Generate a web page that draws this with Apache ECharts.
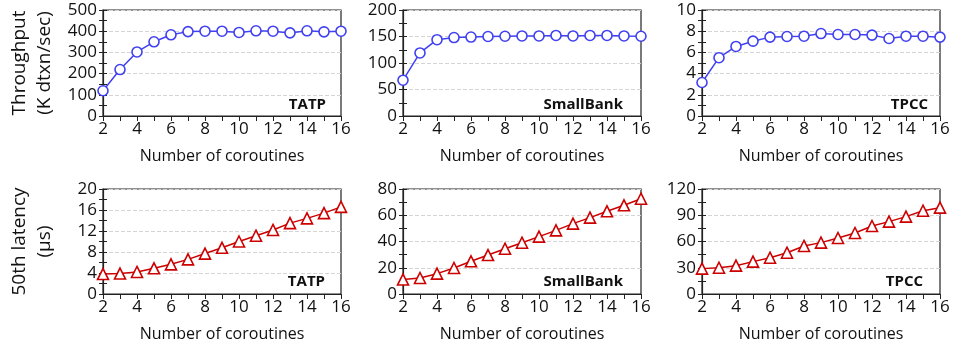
<!DOCTYPE html>
<html>
<head>
<meta charset="utf-8">
<script src="https://cdn.jsdelivr.net/npm/echarts@6/dist/echarts.min.js"></script>
<style>
  html, body { margin: 0; padding: 0; background: #fff; }
  #chart { width: 955px; height: 348px; }
</style>
</head>
<body>
<div id="chart"></div>
<script>
// x values: number of coroutines
const coroutines = [2, 3, 4, 5, 6, 7, 8, 9, 10, 11, 12, 13, 14, 15, 16]
const workloads = ['TATP', 'SmallBank', 'TPCC']

// throughput (K dtxn/sec)
const tputTATP = [119, 219, 302, 350, 383, 398, 400, 400, 394, 402, 400, 392, 402, 397, 400]
const tputSmallBank = [67.5, 119, 144, 148, 149, 150, 150.5, 151, 151, 152, 151, 152, 152, 151, 150.5]
const tputTPCC = [3.16, 5.5, 6.56, 7.06, 7.44, 7.5, 7.53, 7.78, 7.69, 7.69, 7.63, 7.31, 7.53, 7.53, 7.44]

// 50th latency (us)
const latTATP = [3.8, 3.9, 4.2, 4.9, 5.65, 6.6, 7.7, 8.8, 10.0, 11.1, 12.2, 13.5, 14.4, 15.4, 16.6]
const latSmallBank = [11, 12.2, 15.5, 19.8, 24.9, 29.7, 34.5, 39.1, 43.7, 48.5, 53.6, 58.2, 63, 67.6, 72.6]
const latTPCC = [29, 30, 32.4, 37, 41.5, 47.2, 54.9, 58.7, 64, 69.7, 77.7, 82.7, 88.4, 95.2, 98.7]

// y axis ranges: [max, interval]
const tputAxes = [[500, 100], [200, 50], [10, 2]]
const latAxes = [[20, 4], [80, 20], [120, 30]]

const FONT = 'Open Sans'
const colLeft = [103, 403, 702]
const colWidth = 238
const rowTop = [10, 189]
const rowHeight = [106, 105]
const labelRight = [[326, 623, 928], [325, 623, 923]]
const labelY = [105, 282]

const rows = [
  { data: [tputTATP, tputSmallBank, tputTPCC], axes: tputAxes, color: '#4141f2', symbol: 'circle', name: 'Throughput\n(K dtxn/sec)' },
  { data: [latTATP, latSmallBank, latTPCC], axes: latAxes, color: '#cc0000', symbol: 'triangle', name: '50th latency\n(\u00b5s)' }
]

const grid = [], xAxis = [], yAxis = [], series = [], graphic = []

rows.forEach((row, r) => {
  row.data.forEach((vals, c) => {
    const g = grid.length
    grid.push({
      left: colLeft[c], top: rowTop[r], width: colWidth, height: rowHeight[r],
      show: true, borderColor: '#222', borderWidth: 1.2
    })
    xAxis.push({
      type: 'value', gridIndex: g, min: 2, max: 16, interval: 1,
      name: 'Number of coroutines', nameLocation: 'middle', nameGap: 32,
      nameTextStyle: { fontFamily: FONT, fontSize: 16, color: '#111' },
      axisLine: { lineStyle: { color: '#222', width: 1.2 } },
      axisTick: { length: 5, lineStyle: { color: '#222' } },
      axisLabel: {
        fontFamily: FONT, fontSize: 17, color: '#111', margin: 5,
        formatter: (v) => (v % 2 === 0 ? String(v) : '')
      },
      splitLine: { show: false }
    })
    const [max, interval] = row.axes[c]
    const yMain = yAxis.length
    yAxis.push({
      type: 'value', gridIndex: g, min: 0, max: max, interval: interval,
      name: c === 0 ? row.name : '', nameLocation: 'middle', nameGap: 46,
      nameTextStyle: { fontFamily: FONT, fontSize: 19, color: '#111', lineHeight: 25 },
      axisLine: { show: true, lineStyle: { color: '#222', width: 1.2 } },
      axisTick: { show: true, length: 4, lineStyle: { color: '#222' } },
      minorTick: { show: true, splitNumber: 2, length: 4, lineStyle: { color: '#222' } },
      axisLabel: { fontFamily: FONT, fontSize: 17, color: '#111', margin: 6 },
      splitLine: { show: true, lineStyle: { color: '#d4d4d4', type: 'dashed', width: 1 } }
    })
    // inside ticks so the y ticks cross the axis line
    yAxis.push({
      type: 'value', gridIndex: g, min: 0, max: max, interval: interval, position: 'left',
      axisLine: { show: false },
      axisTick: { show: true, inside: true, length: 4, lineStyle: { color: '#222' } },
      minorTick: { show: true, splitNumber: 2, length: 4, lineStyle: { color: '#222' } },
      axisLabel: { show: false },
      splitLine: { show: false }
    })
    series.push({
      type: 'line', xAxisIndex: g, yAxisIndex: yMain,
      data: coroutines.map((x, i) => [x, vals[i]]),
      symbol: row.symbol, symbolSize: row.symbol === 'circle' ? 10 : 11,
      lineStyle: { color: row.color, width: 1.5 },
      itemStyle: { color: '#fff', borderColor: row.color, borderWidth: 1.6 },
      emphasis: { disabled: true },
      z: 3
    })
    graphic.push({
      type: 'text', x: labelRight[r][c], y: labelY[r],
      style: {
        text: workloads[c], fontFamily: FONT, fontWeight: 'bold', fontSize: 15,
        fill: '#111', align: 'right', verticalAlign: 'middle'
      }
    })
  })
})

const chart = echarts.init(document.getElementById('chart'))
chart.setOption({
  animation: false,
  grid, xAxis, yAxis, series, graphic
})
</script>
</body>
</html>
